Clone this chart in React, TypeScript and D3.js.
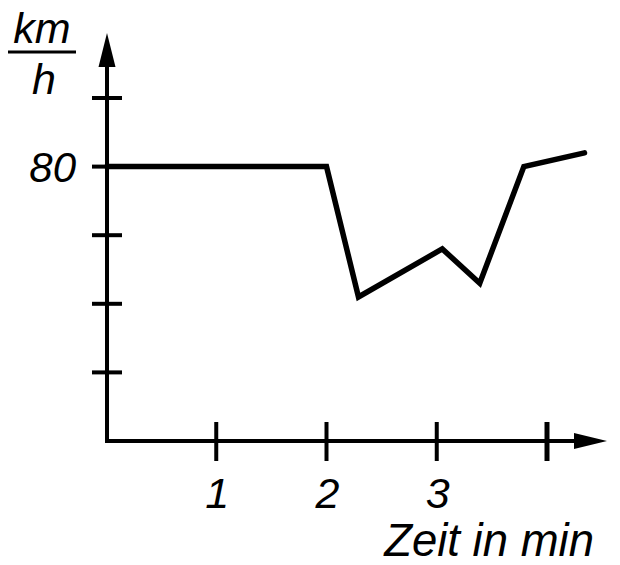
import React, { useEffect, useRef } from "react";
import * as d3 from "d3";

// Geschwindigkeit über Zeit
const timeMin = [0, 2, 2.29, 3.05, 3.39, 3.79, 4.34];
const speedKmh = [80, 80, 42, 56, 46, 80, 84];

const xTicks = [1, 2, 3, 4];
const xTickLabels = ["1", "2", "3", ""];
const yTicks = [20, 40, 60, 80, 100];
const yTickLabels = ["", "", "", "80", ""];

export default function App() {
  const ref = useRef<SVGSVGElement>(null);
  const width = 620;
  const height = 565;
  const font = "'Liberation Sans', Arial, sans-serif";

  useEffect(() => {
    const svg = d3.select(ref.current);
    svg.selectAll("*").remove();

    const x = d3.scaleLinear().domain([0, 4]).range([106, 547]);
    const y = d3.scaleLinear().domain([0, 20]).range([441, 372.4]);
    const x0 = 107;
    const y0 = y(0);

    // arrowheads
    svg
      .append("path")
      .attr("d", `M${x0 - 8.5},67 L${x0},33 L${x0 + 8.5},67 Z`)
      .attr("fill", "#000");
    svg
      .append("path")
      .attr("d", `M574,${y0 - 8} L607,${y0} L574,${y0 + 8} Z`)
      .attr("fill", "#000");

    // axes
    svg
      .append("path")
      .attr("d", `M${x0},62 L${x0},${y0} L578,${y0}`)
      .attr("fill", "none")
      .attr("stroke", "#000")
      .attr("stroke-width", 4)
      .attr("stroke-linejoin", "miter");

    // y ticks
    svg
      .append("g")
      .selectAll("line")
      .data(yTicks)
      .join("line")
      .attr("x1", x0 - 15)
      .attr("x2", x0 + 15)
      .attr("y1", (d) => y(d))
      .attr("y2", (d) => y(d))
      .attr("stroke", "#000")
      .attr("stroke-width", 4);

    svg
      .append("g")
      .selectAll("text")
      .data(yTicks)
      .join("text")
      .attr("x", 76)
      .attr("y", (d) => y(d) + 15)
      .attr("text-anchor", "end")
      .attr("font-family", font)
      .attr("font-style", "italic")
      .attr("font-size", 42)
      .text((_, i) => yTickLabels[i]);

    // x ticks
    svg
      .append("g")
      .selectAll("line")
      .data(xTicks)
      .join("line")
      .attr("x1", (d) => x(d))
      .attr("x2", (d) => x(d))
      .attr("y1", y0 - 19)
      .attr("y2", y0 + 20)
      .attr("stroke", "#000")
      .attr("stroke-width", (d, i) => (i === xTicks.length - 1 ? 5 : 4));

    svg
      .append("g")
      .selectAll("text")
      .data(xTicks)
      .join("text")
      .attr("x", (d) => x(d) + 1)
      .attr("y", 508)
      .attr("text-anchor", "middle")
      .attr("font-family", font)
      .attr("font-style", "italic")
      .attr("font-size", 43)
      .text((_, i) => xTickLabels[i]);

    // axis titles
    svg
      .append("text")
      .attr("x", 42)
      .attr("y", 43)
      .attr("text-anchor", "middle")
      .attr("font-family", font)
      .attr("font-style", "italic")
      .attr("font-size", 43)
      .text("km");
    svg
      .append("line")
      .attr("x1", 8)
      .attr("x2", 76)
      .attr("y1", 52)
      .attr("y2", 52)
      .attr("stroke", "#000")
      .attr("stroke-width", 3);
    svg
      .append("text")
      .attr("x", 44)
      .attr("y", 94)
      .attr("text-anchor", "middle")
      .attr("font-family", font)
      .attr("font-style", "italic")
      .attr("font-size", 43)
      .text("h");

    svg
      .append("text")
      .attr("x", 594)
      .attr("y", 556)
      .attr("text-anchor", "end")
      .attr("font-family", font)
      .attr("font-style", "italic")
      .attr("font-size", 45.5)
      .text("Zeit in min");

    // speed line
    const line = d3
      .line<number>()
      .x((_, i) => (i === 0 ? x0 : x(timeMin[i])))
      .y((d) => y(d));

    svg
      .append("path")
      .datum(speedKmh)
      .attr("fill", "none")
      .attr("stroke", "#000")
      .attr("stroke-width", 5.5)
      .attr("stroke-linejoin", "miter")
      .attr("stroke-linecap", "round")
      .attr("d", line);
  }, []);

  return (
    <svg
      ref={ref}
      width={width}
      height={height}
      style={{ position: "absolute", left: 0, top: 0, background: "#fff" }}
    ></svg>
  );
}
